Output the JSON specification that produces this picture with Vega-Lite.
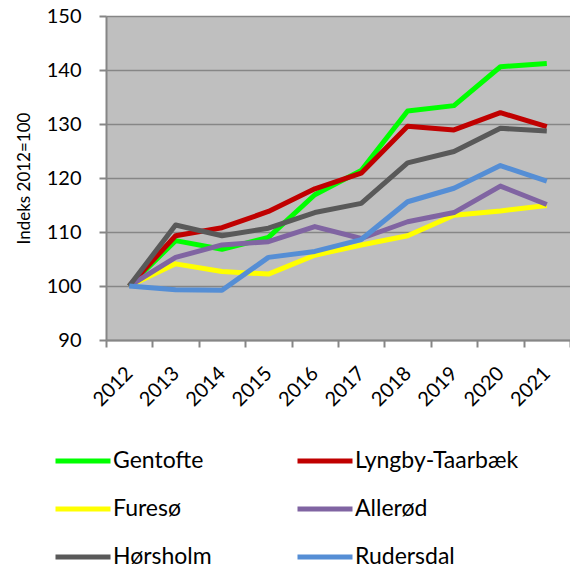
{
  "$schema": "https://vega.github.io/schema/vega-lite/v6.json",
  "width": 464,
  "height": 324,
  "autosize": {"type": "none"},
  "padding": {"left": 106, "top": 16, "right": 0, "bottom": 224},
  "background": "white",
  "config": {
    "view": {"stroke": null, "fill": "#BFBFBF"},
    "font": "Lato",
    "axis": {"labelFont": "Lato", "titleFont": "Lato", "labelColor": "#000000", "titleColor": "#000000", "domainColor": "#868686", "tickColor": "#868686", "gridColor": "#868686", "domainWidth": 2, "tickWidth": 2, "gridWidth": 1.5}
  },
  "data": {
    "values": [
      {"year": "2012", "kommune": "Gentofte", "indeks": 100},
      {"year": "2013", "kommune": "Gentofte", "indeks": 108.4},
      {"year": "2014", "kommune": "Gentofte", "indeks": 106.8},
      {"year": "2015", "kommune": "Gentofte", "indeks": 109.0},
      {"year": "2016", "kommune": "Gentofte", "indeks": 116.9},
      {"year": "2017", "kommune": "Gentofte", "indeks": 121.4},
      {"year": "2018", "kommune": "Gentofte", "indeks": 132.4},
      {"year": "2019", "kommune": "Gentofte", "indeks": 133.4},
      {"year": "2020", "kommune": "Gentofte", "indeks": 140.6},
      {"year": "2021", "kommune": "Gentofte", "indeks": 141.2},
      {"year": "2012", "kommune": "Lyngby-Taarbæk", "indeks": 100},
      {"year": "2013", "kommune": "Lyngby-Taarbæk", "indeks": 109.3},
      {"year": "2014", "kommune": "Lyngby-Taarbæk", "indeks": 110.8},
      {"year": "2015", "kommune": "Lyngby-Taarbæk", "indeks": 113.8},
      {"year": "2016", "kommune": "Lyngby-Taarbæk", "indeks": 118.0},
      {"year": "2017", "kommune": "Lyngby-Taarbæk", "indeks": 120.9},
      {"year": "2018", "kommune": "Lyngby-Taarbæk", "indeks": 129.6},
      {"year": "2019", "kommune": "Lyngby-Taarbæk", "indeks": 128.9},
      {"year": "2020", "kommune": "Lyngby-Taarbæk", "indeks": 132.1},
      {"year": "2021", "kommune": "Lyngby-Taarbæk", "indeks": 129.5},
      {"year": "2012", "kommune": "Furesø", "indeks": 100},
      {"year": "2013", "kommune": "Furesø", "indeks": 104.1},
      {"year": "2014", "kommune": "Furesø", "indeks": 102.7},
      {"year": "2015", "kommune": "Furesø", "indeks": 102.2},
      {"year": "2016", "kommune": "Furesø", "indeks": 105.7},
      {"year": "2017", "kommune": "Furesø", "indeks": 107.6},
      {"year": "2018", "kommune": "Furesø", "indeks": 109.3},
      {"year": "2019", "kommune": "Furesø", "indeks": 113.1},
      {"year": "2020", "kommune": "Furesø", "indeks": 113.9},
      {"year": "2021", "kommune": "Furesø", "indeks": 114.9},
      {"year": "2012", "kommune": "Allerød", "indeks": 100},
      {"year": "2013", "kommune": "Allerød", "indeks": 105.3},
      {"year": "2014", "kommune": "Allerød", "indeks": 107.6},
      {"year": "2015", "kommune": "Allerød", "indeks": 108.2},
      {"year": "2016", "kommune": "Allerød", "indeks": 111.0},
      {"year": "2017", "kommune": "Allerød", "indeks": 108.8},
      {"year": "2018", "kommune": "Allerød", "indeks": 111.9},
      {"year": "2019", "kommune": "Allerød", "indeks": 113.6},
      {"year": "2020", "kommune": "Allerød", "indeks": 118.5},
      {"year": "2021", "kommune": "Allerød", "indeks": 115.1},
      {"year": "2012", "kommune": "Hørsholm", "indeks": 100},
      {"year": "2013", "kommune": "Hørsholm", "indeks": 111.3},
      {"year": "2014", "kommune": "Hørsholm", "indeks": 109.3},
      {"year": "2015", "kommune": "Hørsholm", "indeks": 110.7},
      {"year": "2016", "kommune": "Hørsholm", "indeks": 113.6},
      {"year": "2017", "kommune": "Hørsholm", "indeks": 115.3},
      {"year": "2018", "kommune": "Hørsholm", "indeks": 122.8},
      {"year": "2019", "kommune": "Hørsholm", "indeks": 124.9},
      {"year": "2020", "kommune": "Hørsholm", "indeks": 129.2},
      {"year": "2021", "kommune": "Hørsholm", "indeks": 128.7},
      {"year": "2012", "kommune": "Rudersdal", "indeks": 100},
      {"year": "2013", "kommune": "Rudersdal", "indeks": 99.3},
      {"year": "2014", "kommune": "Rudersdal", "indeks": 99.2},
      {"year": "2015", "kommune": "Rudersdal", "indeks": 105.3},
      {"year": "2016", "kommune": "Rudersdal", "indeks": 106.4},
      {"year": "2017", "kommune": "Rudersdal", "indeks": 108.6},
      {"year": "2018", "kommune": "Rudersdal", "indeks": 115.6},
      {"year": "2019", "kommune": "Rudersdal", "indeks": 118.1},
      {"year": "2020", "kommune": "Rudersdal", "indeks": 122.3},
      {"year": "2021", "kommune": "Rudersdal", "indeks": 119.4}
    ]
  },
  "mark": {"type": "line", "strokeWidth": 5, "strokeJoin": "round"},
  "encoding": {
    "x": {
      "field": "year",
      "type": "ordinal",
      "bandPosition": 0.5,
      "scale": {"type": "band", "paddingInner": 0, "paddingOuter": 0},
      "axis": {"title": null, "labelAngle": -45, "labelAlign": "right", "labelBaseline": "middle", "labelFontSize": 20, "labelPadding": 23, "tickBand": "extent", "tickSize": 7, "grid": false}
    },
    "y": {
      "field": "indeks",
      "type": "quantitative",
      "scale": {"domain": [90, 150], "nice": false, "zero": false},
      "axis": {"values": [90, 100, 110, 120, 130, 140, 150], "title": "Indeks 2012=100", "titleFontSize": 17, "titleFontWeight": "normal", "titlePadding": 13, "labelFontSize": 20, "labelPadding": 18, "tickSize": 7, "grid": true}
    },
    "color": {
      "field": "kommune",
      "type": "nominal",
      "scale": {
        "domain": ["Gentofte", "Furesø", "Hørsholm", "Lyngby-Taarbæk", "Allerød", "Rudersdal"],
        "range": ["#00FF00", "#FFFF00", "#595959", "#C00000", "#8064A2", "#558ED5"]
      },
      "legend": {
        "title": null,
        "orient": "none",
        "legendX": -53,
        "legendY": 415,
        "columns": 2,
        "columnPadding": 75,
        "rowPadding": 6,
        "symbolType": "stroke",
        "symbolSize": 3025,
        "symbolStrokeWidth": 5,
        "labelFont": "Lato",
        "labelFontSize": 23,
        "labelColor": "#000000",
        "labelOffset": 0,
        "labelLimit": 300
      }
    }
  }
}
